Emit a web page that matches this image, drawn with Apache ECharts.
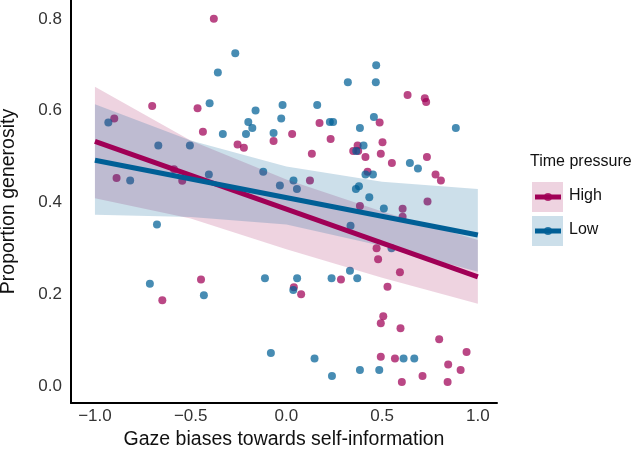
<!DOCTYPE html>
<html><head><meta charset="utf-8">
<script src="https://cdn.jsdelivr.net/npm/echarts@6/dist/echarts.min.js"></script>
<style>html,body{margin:0;padding:0;background:#fff}#c{width:636px;height:452px}</style>
</head><body><div id="c"></div>
<script>
const xTicks = [-1, -0.5, 0, 0.5, 1];
const yTicks = [0, 0.2, 0.4, 0.6, 0.8];
const groups = ['High', 'Low'];

const highPoints = [
[-0.379,0.800],[-0.701,0.610],[-0.464,0.605],[-0.436,0.554],[-0.255,0.526],[-0.222,0.519],
[-0.067,0.534],[-0.899,0.583],[-0.587,0.472],[-0.544,0.447],[-0.887,0.453],[0.633,0.634],
[0.723,0.627],[0.730,0.619],[0.487,0.574],[0.173,0.573],[0.030,0.549],[0.231,0.538],
[0.502,0.531],[0.372,0.524],[0.349,0.512],[0.375,0.512],[0.133,0.506],[0.413,0.499],
[0.493,0.506],[0.734,0.499],[0.551,0.486],[0.779,0.461],[0.807,0.448],[0.424,0.467],
[0.123,0.448],[0.737,0.402],[0.384,0.392],[0.607,0.386],[0.607,0.369],[0.471,0.300],
[0.479,0.276],[0.593,0.248],[0.285,0.232],[0.039,0.215],[0.077,0.200],[0.528,0.216],
[0.506,0.152],[0.493,0.137],[0.596,0.126],[0.798,0.102],[0.941,0.074],[0.493,0.064],
[0.567,0.060],[0.845,0.047],[0.910,0.035],[0.711,0.022],[0.603,0.009],[0.842,0.009],
[-0.446,0.232],[-0.648,0.187]
];
const lowPoints = [
[-0.267,0.725],[-0.358,0.683],[-0.401,0.616],[-0.161,0.600],[-0.199,0.575],[-0.178,0.562],
[-0.211,0.549],[-0.332,0.549],[-0.067,0.551],[-0.020,0.612],[-0.027,0.583],[-0.930,0.574],
[-0.669,0.524],[-0.504,0.524],[-0.405,0.461],[-0.816,0.448],[-0.121,0.467],[-0.034,0.437],
[0.469,0.699],[0.321,0.662],[0.467,0.662],[0.161,0.612],[0.457,0.586],[0.227,0.575],
[0.244,0.575],[0.384,0.562],[0.885,0.562],[0.403,0.524],[0.365,0.512],[0.645,0.486],
[0.687,0.474],[0.413,0.461],[0.452,0.461],[0.037,0.448],[0.055,0.429],[0.363,0.429],
[0.379,0.435],[0.433,0.411],[0.509,0.387],[0.335,0.349],[0.549,0.300],[0.332,0.251],
[0.236,0.235],[0.370,0.235],[0.056,0.235],[0.036,0.209],[-0.081,0.072],[0.612,0.060],
[0.668,0.060],[0.147,0.060],[0.384,0.035],[0.485,0.035],[0.238,0.022],[-0.676,0.352],
[-0.713,0.223],[-0.431,0.198],[-0.112,0.235]
];

const fitX = [-1, 1];
const highFit = [0.533, 0.238];
const lowFit = [0.492, 0.329];

const bandX = [-1, -0.5, 0, 0.5, 1];
const highLower = [0.409, 0.365, 0.298, 0.236, 0.179];
const highUpper = [0.652, 0.535, 0.450, 0.380, 0.318];
const lowLower = [0.373, 0.368, 0.352, 0.305, 0.249];
const lowUpper = [0.614, 0.535, 0.478, 0.445, 0.429];

const colHigh = '#A00056';
const colLow = '#005F96';
const fillHigh = 'rgba(165,20,90,0.19)';
const fillLow = 'rgba(0,95,150,0.2)';
const FONT = '"Liberation Sans", Arial, Helvetica, sans-serif';

function bandSeries(name, lower, upper, fill) {
  return {
    name: name + ' band', type: 'custom', z: 3, silent: true, clip: true,
    data: bandX.map((x, i) => [x, lower[i], upper[i]]),
    renderItem: function (params, api) {
      if (params.dataIndex !== 0) return null;
      const pts = [];
      for (let i = 0; i < bandX.length; i++) pts.push(api.coord([bandX[i], upper[i]]));
      for (let i = bandX.length - 1; i >= 0; i--) pts.push(api.coord([bandX[i], lower[i]]));
      return { type: 'polygon', shape: { points: pts }, style: { fill: fill } };
    }
  };
}
function fitSeries(name, ys, color) {
  return {
    name: name + ' fit', type: 'line', z: 4, silent: true, symbol: 'none',
    data: fitX.map((x, i) => [x, ys[i]]),
    lineStyle: { color: color, width: 5 }
  };
}
function ptSeries(name, pts, color) {
  return {
    name: name, type: 'scatter', z: 2, silent: true, symbolSize: 8,
    data: pts, itemStyle: { color: color, opacity: 0.72 }
  };
}
const fmt = v => (Math.abs(v) < 1e-9 ? '0.0' : v.toFixed(1).replace('-', '\u2212'));

const chart = echarts.init(document.getElementById('c'), null, { renderer: 'canvas' });
chart.setOption({
  animation: false,
  backgroundColor: '#fff',
  textStyle: { fontFamily: FONT },
  grid: { left: 71, top: 0, width: 426, height: 403, containLabel: false, outerBoundsMode: 'none' },
  xAxis: {
    type: 'value', min: -1.125, max: 1.1,
    axisLine: { show: true, onZero: false, lineStyle: { color: '#000', width: 2 } },
    axisTick: { show: false }, splitLine: { show: false },
    axisLabel: { customValues: xTicks, formatter: fmt, fontSize: 17, color: '#333', margin: 5, fontFamily: FONT },
    name: 'Gaze biases towards self-information', nameLocation: 'middle', nameGap: 26,
    nameTextStyle: { fontSize: 19.5, color: '#111', fontFamily: FONT }
  },
  yAxis: {
    type: 'value', min: -0.037, max: 0.841,
    axisLine: { show: true, onZero: false, lineStyle: { color: '#000', width: 2 } },
    axisTick: { show: false }, splitLine: { show: false },
    axisLabel: { customValues: yTicks, formatter: fmt, fontSize: 17, color: '#333', margin: 9, fontFamily: FONT },
    name: 'Proportion generosity', nameLocation: 'middle', nameGap: 52,
    nameTextStyle: { fontSize: 19.5, color: '#111', fontFamily: FONT }
  },
  series: [
    ptSeries(groups[0], highPoints, colHigh),
    ptSeries(groups[1], lowPoints, colLow),
    bandSeries(groups[0], highLower, highUpper, fillHigh),
    bandSeries(groups[1], lowLower, lowUpper, fillLow),
    fitSeries(groups[0], highFit, colHigh),
    fitSeries(groups[1], lowFit, colLow)
  ],
  graphic: [
    { type: 'text', left: 530, top: 154, style: { text: 'Time pressure', font: '16px ' + FONT, fill: '#111' } },
    { type: 'rect', shape: { x: 532, y: 182, width: 31, height: 30 }, style: { fill: fillHigh } },
    { type: 'line', shape: { x1: 535, y1: 197, x2: 561, y2: 197 }, style: { stroke: colHigh, lineWidth: 5 } },
    { type: 'circle', shape: { cx: 548, cy: 197, r: 4 }, style: { fill: colHigh, opacity: 0.8 } },
    { type: 'text', left: 569, top: 188, style: { text: groups[0], font: '16px ' + FONT, fill: '#111' } },
    { type: 'rect', shape: { x: 532, y: 216, width: 31, height: 30 }, style: { fill: fillLow } },
    { type: 'line', shape: { x1: 535, y1: 231, x2: 561, y2: 231 }, style: { stroke: colLow, lineWidth: 5 } },
    { type: 'circle', shape: { cx: 548, cy: 231, r: 4 }, style: { fill: colLow, opacity: 0.8 } },
    { type: 'text', left: 569, top: 222, style: { text: groups[1], font: '16px ' + FONT, fill: '#111' } }
  ]
});
</script>
</body></html>
